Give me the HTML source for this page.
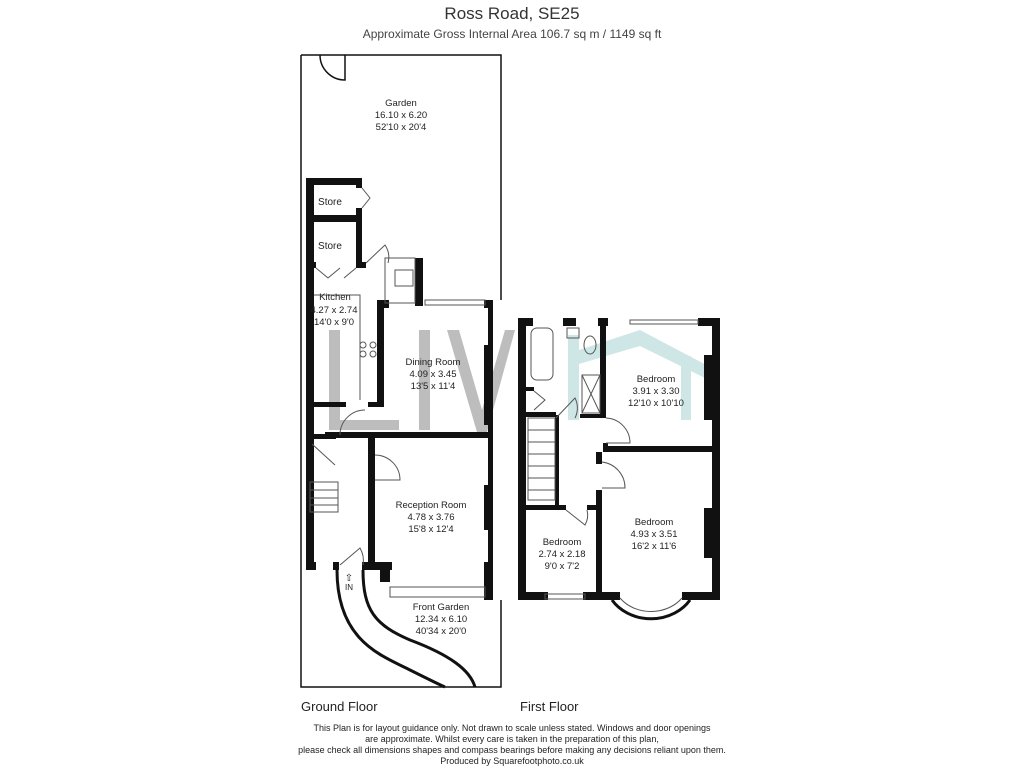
<!DOCTYPE html>
<html><head><style>
body{margin:0;background:#fff;}
svg{display:block;font-family:"Liberation Sans",sans-serif;}
</style></head><body>
<svg width="1024" height="768" viewBox="0 0 1024 768">
<text x="512" y="19" font-size="17" text-anchor="middle" fill="#333">Ross Road, SE25</text>
<text x="512" y="38" font-size="12" text-anchor="middle" fill="#444">Approximate Gross Internal Area  106.7 sq m / 1149 sq ft</text>

<!-- watermark -->
<g fill="#bdbdbd">
<rect x="329" y="330" width="11" height="100"/>
<rect x="329" y="420" width="70" height="10"/>
<rect x="419" y="330" width="11" height="100"/>
<polygon points="447,330 459,330 482,410 505,330 515,330 487,432 477,432"/>
</g>
<g fill="#cfe6e6">
<rect x="568" y="335" width="11" height="85"/>
<polygon points="579,350 640,330 712,368 705,378 640,346 579,364"/>
<rect x="681" y="356" width="10" height="64"/>
</g>

<!-- Ground floor outline -->
<g fill="none" stroke="#111" stroke-width="1.5">
<path d="M301,55 L501,55 L501,300 M301,55 L301,687 L501,687 L501,600"/>
<path d="M320,55 A25,25 0 0 0 345,80 L345,55"/>
</g>
<!-- front path -->
<g fill="none" stroke="#111" stroke-width="3">
<path d="M337,570 C337,640 380,655 410,670 C430,680 440,685 445,687"/>
<path d="M363,570 C363,610 375,625 410,640 C450,655 470,670 475,687"/>
</g>
<g fill="#111">
<rect x="306" y="178" width="8" height="392"/>
<rect x="306" y="178" width="56" height="7"/>
<rect x="356" y="178" width="6" height="10"/>
<rect x="356" y="208" width="6" height="14"/>
<rect x="306" y="215" width="56" height="7"/>
<rect x="356" y="222" width="6" height="45"/>
<rect x="356" y="262" width="10" height="6"/>
<rect x="306" y="262" width="10" height="6"/>
<rect x="415" y="258" width="8" height="48"/>
<rect x="377" y="300" width="12" height="8"/>
<rect x="377" y="300" width="7" height="105"/>
<rect x="484" y="300" width="9" height="8"/>
<rect x="488" y="300" width="5" height="300"/>
<rect x="484" y="345" width="9" height="80"/>
<rect x="484" y="485" width="9" height="45"/>
<rect x="306" y="402" width="40" height="5"/>
<rect x="368" y="402" width="16" height="5"/>
<rect x="306" y="434" width="30" height="5"/>
<rect x="325" y="432" width="168" height="6"/>
<rect x="368" y="438" width="7" height="127"/>
<rect x="306" y="434" width="6" height="10"/>
<rect x="306" y="562" width="10" height="8"/>
<rect x="333" y="562" width="6" height="8"/>
<rect x="362" y="562" width="30" height="8"/>
<rect x="380" y="570" width="10" height="12"/>
<rect x="484" y="562" width="9" height="38"/>
</g>
<g fill="none" stroke="#555" stroke-width="1">
<rect x="385" y="258" width="30" height="45"/>
<rect x="395" y="270" width="18" height="16"/>
<path d="M314,295 L360,295 L360,400"/>
<circle cx="363" cy="345" r="3"/><circle cx="373" cy="345" r="3"/><circle cx="363" cy="354" r="3"/><circle cx="373" cy="354" r="3"/>
<rect x="310" y="482" width="28" height="30"/>
<path d="M310,490 H338 M310,498 H338 M310,505 H338"/>
<rect x="390" y="587" width="95" height="10"/>
<rect x="425" y="300" width="60" height="5"/>
<path d="M375,455 A25,25 0 0 1 400,480 L375,480"/>
<path d="M340,435 A25,25 0 0 1 365,410"/>
<path d="M340,565 L360,548 A25,25 0 0 1 363,565"/>
<path d="M366,263 L385,245 A22,22 0 0 1 388,263"/>
<path d="M316,268 L328,278 L340,268 M356,268 L344,278"/>
<path d="M362,188 L370,198 L362,208"/>
<path d="M312,444 L335,465"/>
</g>
<g font-size="10" fill="#222" text-anchor="middle">
<text x="330" y="205">Store</text>
<text x="330" y="249">Store</text>
<text x="335" y="300" font-size="9.5">Kitchen</text>
<text x="334" y="313" font-size="9.5">4.27 x 2.74</text>
<text x="334" y="325" font-size="9.5">14'0 x 9'0</text>
<text x="433" y="365" font-size="9.5">Dining Room</text>
<text x="433" y="377" font-size="9.5">4.09 x 3.45</text>
<text x="433" y="389" font-size="9.5">13'5 x 11'4</text>
<text x="431" y="508" font-size="9.5">Reception Room</text>
<text x="431" y="520" font-size="9.5">4.78 x 3.76</text>
<text x="431" y="532" font-size="9.5">15'8 x 12'4</text>
<text x="441" y="610" font-size="9.5">Front Garden</text>
<text x="441" y="622" font-size="9.5">12.34 x 6.10</text>
<text x="441" y="634" font-size="9.5">40'34 x 20'0</text>
<text x="401" y="106" font-size="9.5">Garden</text>
<text x="401" y="118" font-size="9.5">16.10 x 6.20</text>
<text x="401" y="130" font-size="9.5">52'10 x 20'4</text>
<text x="349" y="590" font-size="8">IN</text>
<text x="349" y="581" font-size="10">⇧</text>
</g>

<!-- First floor -->
<g fill="#111">
<rect x="518" y="318" width="8" height="282"/>
<rect x="518" y="318" width="15" height="8"/>
<rect x="563" y="318" width="13" height="8"/>
<rect x="598" y="318" width="10" height="8"/>
<rect x="698" y="318" width="22" height="8"/>
<rect x="712" y="318" width="8" height="282"/>
<rect x="704" y="355" width="10" height="65"/>
<rect x="704" y="508" width="10" height="50"/>
<rect x="600" y="326" width="6" height="90"/>
<rect x="580" y="414" width="26" height="4"/>
<rect x="603" y="446" width="117" height="6"/>
<rect x="603" y="443" width="5" height="8"/>
<rect x="596" y="452" width="6" height="12"/>
<rect x="596" y="490" width="6" height="110"/>
<rect x="526" y="505" width="40" height="5"/>
<rect x="587" y="505" width="13" height="5"/>
<rect x="555" y="415" width="4" height="90"/>
<rect x="526" y="412" width="30" height="5"/>
<rect x="526" y="387" width="8" height="4"/>
<rect x="518" y="592" width="30" height="8"/>
<rect x="583" y="592" width="37" height="8"/>
<rect x="682" y="592" width="38" height="8"/>
</g>
<g fill="none" stroke="#555" stroke-width="1">
<path d="M620,598 A38,32 0 0 0 682,598"/>
<path d="M612,600 A46,40 0 0 0 690,600" stroke="#111" stroke-width="3"/>
<rect x="531" y="328" width="22" height="52" rx="6"/>
<rect x="567" y="328" width="12" height="10"/>
<ellipse cx="590" cy="345" rx="6" ry="9"/>
<rect x="582" y="375" width="18" height="38"/>
<path d="M582,375 L600,413 M600,375 L582,413"/>
<rect x="528" y="418" width="27" height="82"/>
<path d="M528,430 H555 M528,442 H555 M528,454 H555 M528,466 H555 M528,478 H555 M528,490 H555"/>
<path d="M606,418 A25,25 0 0 1 630,443 L606,443"/>
<path d="M602,462 A26,26 0 0 1 625,488 L602,488"/>
<path d="M566,510 L585,525 A20,20 0 0 0 587,510"/>
<path d="M556,418 L575,398 A22,22 0 0 1 575,418"/>
<path d="M534,391 L545,400 L534,410"/>
<rect x="545" y="594" width="40" height="5"/>
<rect x="630" y="320" width="68" height="4"/>
</g>
<g font-size="9.5" fill="#222" text-anchor="middle">
<text x="656" y="382">Bedroom</text>
<text x="656" y="394">3.91 x 3.30</text>
<text x="656" y="406">12'10 x 10'10</text>
<text x="654" y="525">Bedroom</text>
<text x="654" y="537">4.93 x 3.51</text>
<text x="654" y="549">16'2 x 11'6</text>
<text x="562" y="545">Bedroom</text>
<text x="562" y="557">2.74 x 2.18</text>
<text x="562" y="569">9'0 x 7'2</text>
</g>

<text x="301" y="711" font-size="13" fill="#222">Ground Floor</text>
<text x="520" y="711" font-size="13" fill="#222">First Floor</text>
<g font-size="9" fill="#222" text-anchor="middle">
<text x="512" y="731">This Plan is for layout guidance only. Not drawn to scale unless stated. Windows and door openings</text>
<text x="512" y="742">are approximate. Whilst every care is taken in the preparation of this plan,</text>
<text x="512" y="753">please check all dimensions shapes and compass bearings before making any decisions reliant upon them.</text>
<text x="512" y="764">Produced by Squarefootphoto.co.uk</text>
</g>
</svg>
</body></html>
